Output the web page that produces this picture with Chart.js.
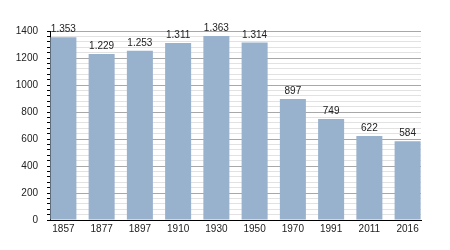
<!DOCTYPE html>
<html lang="fr">
<head>
    <meta charset="UTF-8">
    <title>Population</title>
    <script src="https://cdn.jsdelivr.net/npm/chart.js"></script>
    <style>
        html, body { margin: 0; padding: 0; background: #fff; }
        #wrap { width: 450px; height: 250px; }
    </style>
</head>
<body>
    <div id="wrap"><canvas id="popChart"></canvas></div>

    <script>
        // Données
        const years = ['1857', '1877', '1897', '1910', '1930', '1950', '1970', '1991', '2011', '2016'];
        const population = [1353, 1229, 1253, 1311, 1363, 1314, 897, 749, 622, 584];
        const yTicks = [0, 200, 400, 600, 800, 1000, 1200, 1400];

        const barColor = '#98b1cc';
        const font = { family: '"Liberation Sans", Arial, sans-serif', size: 10 };

        // Étiquettes de valeur au-dessus des barres
        const valueLabels = {
            id: 'valueLabels',
            afterDatasetsDraw(chart) {
                const ctx = chart.ctx;
                const meta = chart.getDatasetMeta(0);
                ctx.save();
                ctx.font = '10px "Liberation Sans", Arial, sans-serif';
                ctx.fillStyle = '#222';
                ctx.textAlign = 'center';
                ctx.textBaseline = 'alphabetic';
                meta.data.forEach(function(bar, i) {
                    ctx.fillText(population[i].toLocaleString('de-DE'), bar.x, bar.y - 5);
                });
                ctx.restore();
            }
        };

        const ctx = document.getElementById('popChart').getContext('2d');
        new Chart(ctx, {
            type: 'bar',
            data: {
                datasets: [{
                    data: population.map((v, i) => ({ x: i, y: v })),
                    backgroundColor: barColor,
                    borderWidth: 0,
                    barPercentage: 0.68,
                    categoryPercentage: 1
                }]
            },
            options: {
                responsive: true,
                maintainAspectRatio: false,
                animation: false,
                layout: { padding: { left: 0, right: 29, top: 31, bottom: 0 } },
                plugins: {
                    legend: { display: false },
                    tooltip: { enabled: false }
                },
                scales: {
                    x: {
                        type: 'linear',
                        offset: false,
                        min: -0.35,
                        max: years.length - 1 + 0.35,
                        afterBuildTicks: function(scale) {
                            scale.ticks = years.map((_, i) => ({ value: i }));
                        },
                        afterFit: function(scale) { scale.height = 30; },
                        grid: { display: false, drawTicks: false, tickLength: 0 },
                        border: { display: true, color: '#000', width: 1 },
                        ticks: {
                            font: font,
                            color: '#222',
                            padding: 3,
                            maxRotation: 0,
                            autoSkip: false,
                            callback: function(value) { return years[value]; }
                        }
                    },
                    y: {
                        min: 0,
                        max: 1400,
                        afterFit: function(scale) { scale.width = 50; },
                        border: { display: true, color: '#000', width: 1 },
                        grid: {
                            color: function(c) {
                                return yTicks.includes(c.tick.value) ? '#a8a8a8' : '#e2e2e2';
                            },
                            tickColor: '#000',
                            tickLength: 3
                        },
                        ticks: {
                            stepSize: 40,
                            autoSkip: false,
                            font: font,
                            color: '#222',
                            padding: 9,
                            callback: function(value) {
                                return yTicks.includes(value) ? String(value) : '';
                            }
                        }
                    }
                }
            },
            plugins: [valueLabels]
        });
    </script>
</body>
</html>
